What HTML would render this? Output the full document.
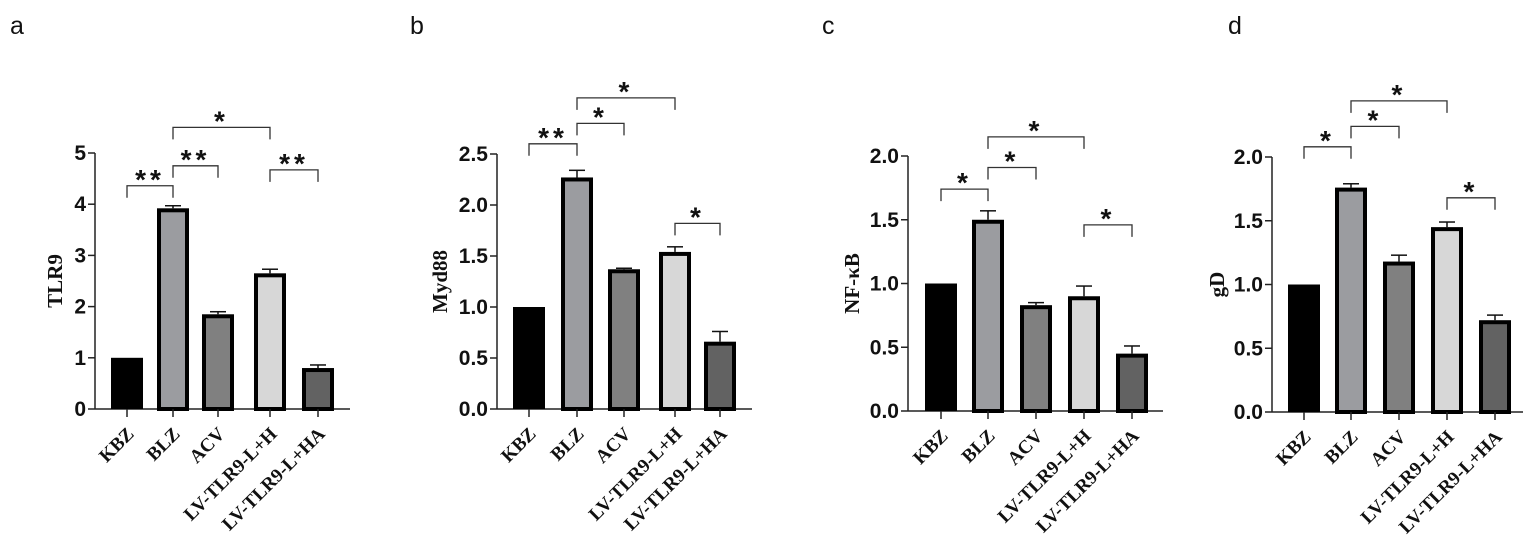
<!DOCTYPE html>
<html><head><meta charset="utf-8"><style>
html,body{margin:0;padding:0;background:#fff;}
svg{display:block;}
.tick{font-family:"Liberation Sans",sans-serif;font-weight:bold;font-size:21px;fill:#111;}
.cat{font-family:"Liberation Serif",serif;font-weight:bold;font-size:19px;fill:#111;}
.ylab{font-family:"Liberation Serif",serif;font-weight:bold;font-size:21px;fill:#111;}
.plet{font-family:"Liberation Sans",sans-serif;font-size:25px;fill:#111;}
.star{font-family:"Liberation Sans",sans-serif;font-weight:bold;font-size:28px;fill:#111;}
</style></head><body>
<svg id="fig" width="1535" height="547" viewBox="0 0 1535 547" xmlns="http://www.w3.org/2000/svg"></svg>
<script>
const categories = ["KBZ","BLZ","ACV","LV-TLR9-L+H","LV-TLR9-L+HA"];
const fills = ["#000000","#9b9ca0","#808080","#d7d7d7","#626262"];
// panel a
const tlr9Values = [1, 3.92, 1.85, 2.65, 0.80];
const tlr9Errors = [0, 0.05, 0.05, 0.08, 0.06];
const tlr9Ticks = ["0","1","2","3","4","5"];
const tlr9Sig = [[0,1,4.36,"**"],[1,2,4.75,"**"],[1,3,5.5,"*"],[3,4,4.67,"**"]];
// panel b
const myd88Values = [1, 2.27, 1.37, 1.54, 0.66];
const myd88Errors = [0, 0.07, 0.01, 0.05, 0.10];
const myd88Ticks = ["0.0","0.5","1.0","1.5","2.0","2.5"];
const myd88Sig = [[0,1,2.6,"**"],[1,2,2.8,"*"],[1,3,3.05,"*"],[3,4,1.82,"*"]];
// panel c
const nfkbValues = [1, 1.50, 0.83, 0.90, 0.45];
const nfkbErrors = [0, 0.07, 0.02, 0.08, 0.06];
const nfkbTicks = ["0.0","0.5","1.0","1.5","2.0"];
const nfkbSig = [[0,1,1.74,"*"],[1,2,1.91,"*"],[1,3,2.15,"*"],[3,4,1.46,"*"]];
// panel d
const gdValues = [1, 1.76, 1.18, 1.45, 0.72];
const gdErrors = [0, 0.03, 0.05, 0.04, 0.04];
const gdTicks = ["0.0","0.5","1.0","1.5","2.0"];
const gdSig = [[0,1,2.08,"*"],[1,2,2.24,"*"],[1,3,2.44,"*"],[3,4,1.68,"*"]];

const panels = [
 {letter:"a",lx:10,ylx:62,ylabel:"TLR9",vals:tlr9Values,errs:tlr9Errors,ticks:tlr9Ticks,sig:tlr9Sig,max:5,ax:95,y0:409,ytop:153,xend:350,xs:[127,173,218,270,318]},
 {letter:"b",lx:410,ylx:447,ylabel:"Myd88",vals:myd88Values,errs:myd88Errors,ticks:myd88Ticks,sig:myd88Sig,max:2.5,ax:497,y0:409,ytop:154,xend:752,xs:[529,577,624,675,720]},
 {letter:"c",lx:822,ylx:859,ylabel:"NF-κB",vals:nfkbValues,errs:nfkbErrors,ticks:nfkbTicks,sig:nfkbSig,max:2,ax:908,y0:411,ytop:156,xend:1163,xs:[941,988,1036,1084,1132]},
 {letter:"d",lx:1228,ylx:1224,ylabel:"gD",vals:gdValues,errs:gdErrors,ticks:gdTicks,sig:gdSig,max:2,ax:1272,y0:412,ytop:157,xend:1523,xs:[1304,1351,1399,1447,1495]}
];
const NS="http://www.w3.org/2000/svg";
const svg=document.getElementById("fig");
function mk(tag,attrs,parent){const e=document.createElementNS(NS,tag);for(const k in attrs)e.setAttribute(k,attrs[k]);(parent||svg).appendChild(e);return e;}
panels.forEach(p=>{
  const g=mk("g",{});
  
  
  const y=v=>p.y0-(v/p.max)*(p.y0-p.ytop);
  const t=mk("text",{x:p.lx,y:34,class:"plet"},g);t.textContent=p.letter;
  
  
  const ya=mk("line",{x1:p.ax,y1:p.ytop,x2:p.ax,y2:p.y0,stroke:"#222","stroke-width":1.5},g);
  
  
  const xa=mk("line",{x1:p.ax,y1:p.y0,x2:p.xend,y2:p.y0,stroke:"#222","stroke-width":1.5},g);
  
  
  p.ticks.forEach((lab,i)=>{
    const v=p.max*i/(p.ticks.length-1);const yy=y(v);
    mk("line",{x1:p.ax-7,y1:yy,x2:p.ax,y2:yy,stroke:"#222","stroke-width":1.5},g);
    const tt=mk("text",{x:p.ax-9,y:yy+7,class:"tick","text-anchor":"end"},g);tt.textContent=lab;
    
    
  });
  const yl=mk("text",{class:"ylab","text-anchor":"middle",transform:`translate(${p.ylx},${(p.y0+p.ytop)/2}) rotate(-90)`},g);
  yl.textContent=p.ylabel;
  
  
  const bw=32;
  p.vals.forEach((v,i)=>{
    const cx=p.xs[i];
    if(p.errs[i]>0){
      mk("line",{x1:cx,y1:y(v),x2:cx,y2:y(v+p.errs[i]),stroke:"#111","stroke-width":1.5},g);
      mk("line",{x1:cx-8,y1:y(v+p.errs[i]),x2:cx+8,y2:y(v+p.errs[i]),stroke:"#111","stroke-width":1.5},g);
    }
    let r;
    if(i===0) r=mk("rect",{x:cx-bw/2,y:y(v),width:bw,height:p.y0-y(v),fill:"#000"},g);
    else r=mk("rect",{x:cx-bw/2+2,y:y(v)+2,width:bw-4,height:p.y0-y(v)-2,fill:fills[i],stroke:"#000","stroke-width":4},g);
    
    
    mk("line",{x1:cx,y1:p.y0,x2:cx,y2:p.y0+8,stroke:"#222","stroke-width":1.5},g);
    const c=mk("text",{class:"cat","text-anchor":"end",transform:`translate(${cx+8},${p.y0+26}) rotate(-45)`},g);
    c.textContent=categories[i];
    
    
  });
  p.sig.forEach(s=>{
    const x1=p.xs[s[0]], x2=p.xs[s[1]];
    const top=y(s[2]);
    const b=mk("path",{d:`M${x1},${top+12} V${top} H${x2} V${top+12}`,fill:"none",stroke:"#333","stroke-width":1.3},g);
    
    
    const st=mk("text",{x:(x1+x2)/2,y:top+3,class:"star","text-anchor":"middle","letter-spacing":"4"},g);
    st.textContent=s[3];
    
    
  });
});
</script>
</body></html>
